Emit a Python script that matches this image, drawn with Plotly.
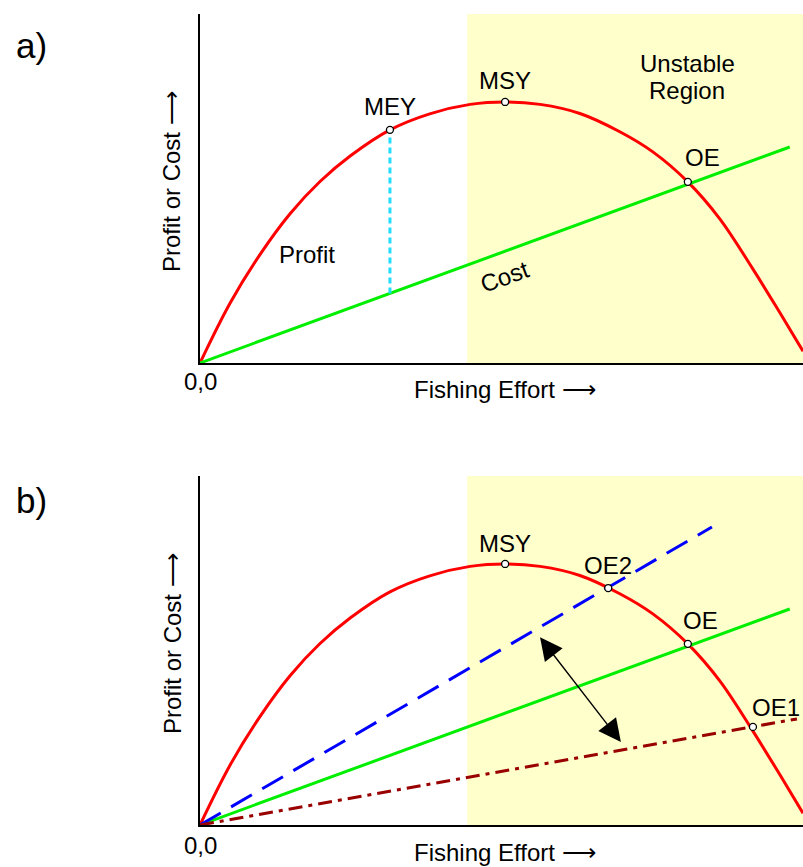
import plotly.graph_objects as go

# ---- data ----
effort = [0, 5.0, 10.0, 14.9, 19.9, 24.9, 31.5, 38.1, 44.8, 50.6, 56.4, 63.0, 69.7, 75.1, 80.9, 86.2, 91.7, 96.2, 100]
profit = [0, 17.2, 31.2, 42.7, 52.0, 59.3, 66.8, 71.4, 74.1, 74.8, 74.1, 71.5, 66.2, 60.5, 51.9, 41.3, 26.9, 14.3, 3.4]

cost_x = [0, 97.8]
cost_y = [0, 61.9]
cost_high_x = [0, 84.9]
cost_high_y = [0, 85.4]
cost_low_x = [0, 99.0]
cost_low_y = [0, 30.4]

mey = (31.5, 66.8)
mey_cost = 31.5 * 61.9 / 97.8
msy = (50.6, 74.8)
oe = (80.9, 51.9)
oe2 = (67.7, 67.9)
oe1 = (91.7, 28.1)
unstable_start = 44.3

arrow_tail = (56.2, 54.2)
arrow_head = (69.8, 23.8)

W, H = 803, 867
FONT = "Liberation Sans, Arial, sans-serif"


def px(x):
    return x / W


def py(y):
    return 1 - y / H


fig = go.Figure()

RED = "#ff0000"
GREEN = "#00ee00"
BLUE = "#0000ff"
DKRED = "#990000"
CYAN = "#22ddff"
LW = 3

dot = dict(size=7, color="white", line=dict(color="black", width=1.3))

for ax in ["", "2"]:
    xa = "x" + ax
    ya = "y" + ax
    fig.add_shape(type="rect", xref=xa, yref=ya + " domain", x0=unstable_start, x1=100,
                  y0=0, y1=1, fillcolor="#ffffcc", line_width=0, layer="below")
    fig.add_trace(go.Scatter(x=effort, y=profit, mode="lines",
                             line=dict(color=RED, width=LW, shape="spline", smoothing=1.0),
                             xaxis=xa, yaxis=ya, hoverinfo="skip"))
    fig.add_trace(go.Scatter(x=cost_x, y=cost_y, mode="lines", line=dict(color=GREEN, width=LW),
                             xaxis=xa, yaxis=ya, hoverinfo="skip"))

# panel a extras
fig.add_trace(go.Scatter(x=[mey[0], mey[0]], y=[mey_cost, mey[1]], mode="lines",
                         line=dict(color=CYAN, width=LW, dash="6px,4px"), xaxis="x", yaxis="y"))
fig.add_trace(go.Scatter(x=[mey[0], msy[0], oe[0]], y=[mey[1], msy[1], oe[1]], mode="markers",
                         marker=dot, xaxis="x", yaxis="y", cliponaxis=False))

# panel b extras
fig.add_trace(go.Scatter(x=cost_high_x, y=cost_high_y, mode="lines",
                         line=dict(color=BLUE, width=LW, dash="24px,12px"), xaxis="x2", yaxis="y2"))
fig.add_trace(go.Scatter(x=cost_low_x, y=cost_low_y, mode="lines",
                         line=dict(color=DKRED, width=LW, dash="14px,6px,4px,6px"), xaxis="x2", yaxis="y2"))
fig.add_trace(go.Scatter(x=[msy[0], oe2[0], oe[0], oe1[0]], y=[msy[1], oe2[1], oe[1], oe1[1]], mode="markers",
                         marker=dot, xaxis="x2", yaxis="y2", cliponaxis=False))

axis_common = dict(range=[0, 100], showgrid=False, zeroline=False, showline=True, linecolor="black",
                   linewidth=1.5, showticklabels=False, ticks="", fixedrange=True)

fig.update_layout(
    width=W, height=H, margin=dict(l=0, r=0, t=0, b=0, pad=0),
    paper_bgcolor="white", plot_bgcolor="rgba(0,0,0,0)", showlegend=False,
    font=dict(family=FONT, size=24, color="black"),
    xaxis=dict(domain=[200 / W, 1], anchor="y", **axis_common),
    yaxis=dict(domain=[py(363), py(14)], anchor="x", **axis_common),
    xaxis2=dict(domain=[200 / W, 1], anchor="y2", **axis_common),
    yaxis2=dict(domain=[py(825), py(476)], anchor="x2", **axis_common),
)

ann = []


def label(text, x, y, size=24, angle=0):
    ann.append(dict(text=text, x=px(x), y=py(y), xref="paper", yref="paper", showarrow=False,
                    xanchor="center", yanchor="middle", textangle=angle, font=dict(size=size)))


# panel a
label("a)", 31, 45, size=35)
label("MEY", 390, 107)
label("MSY", 505, 80)
label("Unstable", 687, 63)
label("Region", 687, 90)
label("OE", 702, 157)
label("Profit", 307, 254)
label("Cost", 505, 277, angle=-20)
label("0,0", 200, 381)
label("Fishing Effort \u27f6", 505, 389)
label("Profit or Cost \u27f6", 172, 182, angle=-90)

# panel b
label("b)", 31, 500, size=35)
label("MSY", 505, 543)
label("OE2", 608, 565)
label("OE", 700, 620)
label("OE1", 776, 707)
label("0,0", 200, 845)
label("Fishing Effort \u27f6", 505, 852)
label("Profit or Cost \u27f6", 172, 644, angle=-90)

# double-headed arrow
ann.append(dict(x=arrow_head[0], y=arrow_head[1], ax=arrow_tail[0], ay=arrow_tail[1],
                xref="x2", yref="y2", axref="x2", ayref="y2", text="", showarrow=True,
                arrowhead=2, startarrowhead=2, arrowside="end+start", arrowsize=3.2, startarrowsize=3.2,
                arrowwidth=1.4, arrowcolor="black"))

fig.update_layout(annotations=ann)

fig.write_html("out.html", config={"displayModeBar": False},
               post_script="document.body.style.margin='0px';document.body.style.overflow='hidden';")
